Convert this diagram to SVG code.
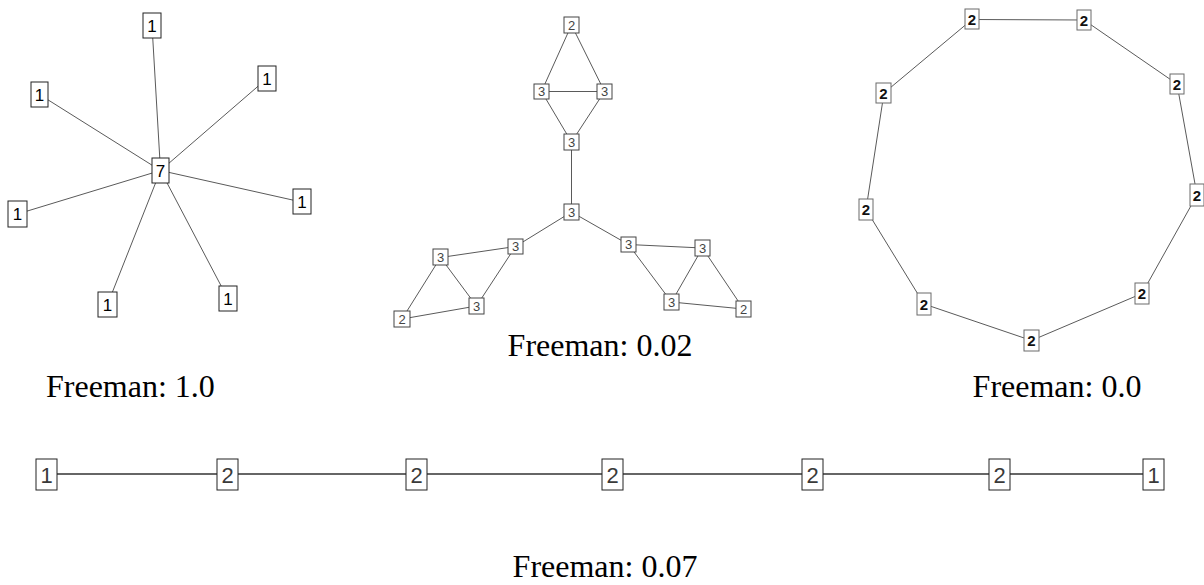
<svg xmlns="http://www.w3.org/2000/svg" width="1204" height="585" viewBox="0 0 1204 585">
  <style>
    .bg { fill: #ffffff; }
    .edge { stroke: #5a5a5a; stroke-width: 1; fill: none; }
    .edge-path { stroke: #333333; stroke-width: 1.5; fill: none; }
    .box { fill: #ffffff; stroke: #222222; stroke-width: 1; }
    .box-s { fill: #ffffff; stroke: #444444; stroke-width: 1; }
    .box-r { fill: #ffffff; stroke: #6a6a6a; stroke-width: 1; }
    .lbl { font-family: "Liberation Sans", Arial, sans-serif; text-anchor: middle; fill: #000000; }
    .star { font-size: 17px; }
    .tri { font-size: 13px; fill: #444444; }
    .ring { font-size: 15px; font-weight: bold; fill: #111111; }
    .line { font-size: 22px; fill: #3a3a3a; }
    .caption { font-family: "Liberation Serif", "Times New Roman", serif; font-size: 32px; fill: #000000; }
  </style>
  <rect class="bg" x="0" y="0" width="1204" height="585"/>

  <!-- connectors -->
  <g id="edges">
    <!-- star -->
    <g id="edges-star" class="edge">
      <line x1="160.5" y1="170.5" x2="152" y2="25.5"/>
      <line x1="160.5" y1="170.5" x2="267" y2="78.5"/>
      <line x1="160.5" y1="170.5" x2="39.5" y2="94.5"/>
      <line x1="160.5" y1="170.5" x2="301.5" y2="202"/>
      <line x1="160.5" y1="170.5" x2="17.5" y2="214"/>
      <line x1="160.5" y1="170.5" x2="107.5" y2="304.5"/>
      <line x1="160.5" y1="170.5" x2="228" y2="299"/>
    </g>
    <!-- three triangles -->
    <g id="edges-tri" class="edge">
      <line x1="571.5" y1="25" x2="541.5" y2="91.5"/>
      <line x1="571.5" y1="25" x2="604.5" y2="91.5"/>
      <line x1="541.5" y1="91.5" x2="604.5" y2="91.5"/>
      <line x1="541.5" y1="91.5" x2="571.5" y2="142"/>
      <line x1="604.5" y1="91.5" x2="571.5" y2="142"/>
      <line x1="571.5" y1="142" x2="571.5" y2="212"/>
      <line x1="571.5" y1="212" x2="515.5" y2="246.5"/>
      <line x1="571.5" y1="212" x2="628.5" y2="244.5"/>
      <line x1="515.5" y1="246.5" x2="440.5" y2="257.5"/>
      <line x1="515.5" y1="246.5" x2="476.5" y2="306"/>
      <line x1="440.5" y1="257.5" x2="476.5" y2="306"/>
      <line x1="440.5" y1="257.5" x2="402" y2="319"/>
      <line x1="476.5" y1="306" x2="402" y2="319"/>
      <line x1="628.5" y1="244.5" x2="702.5" y2="248"/>
      <line x1="628.5" y1="244.5" x2="671.5" y2="302"/>
      <line x1="702.5" y1="248" x2="671.5" y2="302"/>
      <line x1="702.5" y1="248" x2="743.5" y2="309"/>
      <line x1="671.5" y1="302" x2="743.5" y2="309"/>
    </g>
    <!-- ring -->
    <g id="edges-ring" class="edge">
      <polygon points="972,19.5 1084,20 1177,84 1197,195 1142,293.5 1031.5,340.5 924,304 866,209.5 884,93"/>
    </g>
    <!-- path -->
    <g id="edges-path" class="edge-path">
      <line x1="46.5" y1="474" x2="1153.5" y2="474"/>
    </g>
  </g>

  <!-- star nodes -->
  <g id="star-c"><rect class="box" x="152" y="158" width="17" height="25"/><text class="lbl star" x="160.5" y="176.5">7</text></g>
  <g id="star-1"><rect class="box" x="143" y="13" width="18" height="25"/><text class="lbl star" x="152" y="31.5">1</text></g>
  <g id="star-2"><rect class="box" x="258" y="66" width="18" height="25"/><text class="lbl star" x="267" y="84.5">1</text></g>
  <g id="star-3"><rect class="box" x="31" y="82" width="17" height="25"/><text class="lbl star" x="39.5" y="100.5">1</text></g>
  <g id="star-4"><rect class="box" x="293" y="189" width="18" height="25"/><text class="lbl star" x="302" y="207.5">1</text></g>
  <g id="star-5"><rect class="box" x="8" y="201" width="19" height="26"/><text class="lbl star" x="17.5" y="220">1</text></g>
  <g id="star-6"><rect class="box" x="98" y="292" width="19" height="25"/><text class="lbl star" x="107.5" y="310.5">1</text></g>
  <g id="star-7"><rect class="box" x="219" y="286" width="18" height="25"/><text class="lbl star" x="228" y="304.5">1</text></g>

  <!-- triangle nodes -->
  <g id="tri-top"><rect class="box-s" x="564" y="17" width="15" height="16"/><text class="lbl tri" x="571.5" y="29.5">2</text></g>
  <g id="tri-a1"><rect class="box-s" x="534" y="84" width="15" height="15"/><text class="lbl tri" x="541.5" y="96">3</text></g>
  <g id="tri-a2"><rect class="box-s" x="597" y="84" width="15" height="15"/><text class="lbl tri" x="604.5" y="96">3</text></g>
  <g id="tri-a3"><rect class="box-s" x="564" y="134" width="15" height="16"/><text class="lbl tri" x="571.5" y="146.5">3</text></g>
  <g id="tri-hub"><rect class="box-s" x="564" y="204" width="15" height="16"/><text class="lbl tri" x="571.5" y="216.5">3</text></g>
  <g id="tri-b1"><rect class="box-s" x="508" y="239" width="15" height="15"/><text class="lbl tri" x="515.5" y="251">3</text></g>
  <g id="tri-b2"><rect class="box-s" x="433" y="249" width="15" height="16"/><text class="lbl tri" x="440.5" y="261.5">3</text></g>
  <g id="tri-b3"><rect class="box-s" x="469" y="298" width="15" height="16"/><text class="lbl tri" x="476.5" y="310.5">3</text></g>
  <g id="tri-b4"><rect class="box-s" x="394" y="311" width="16" height="16"/><text class="lbl tri" x="402" y="323.5">2</text></g>
  <g id="tri-c1"><rect class="box-s" x="621" y="237" width="15" height="15"/><text class="lbl tri" x="628.5" y="249">3</text></g>
  <g id="tri-c2"><rect class="box-s" x="695" y="240" width="15" height="16"/><text class="lbl tri" x="702.5" y="252.5">3</text></g>
  <g id="tri-c3"><rect class="box-s" x="664" y="294" width="15" height="16"/><text class="lbl tri" x="671.5" y="306.5">3</text></g>
  <g id="tri-c4"><rect class="box-s" x="736" y="301" width="15" height="16"/><text class="lbl tri" x="743.5" y="313.5">2</text></g>

  <!-- ring nodes -->
  <g id="ring-1"><rect class="box-r" x="965" y="9" width="14" height="20"/><text class="lbl ring" x="972" y="24.5">2</text></g>
  <g id="ring-2"><rect class="box-r" x="1077" y="10" width="14" height="20"/><text class="lbl ring" x="1084" y="25.5">2</text></g>
  <g id="ring-3"><rect class="box-r" x="1170" y="74" width="14" height="20"/><text class="lbl ring" x="1177" y="89.5">2</text></g>
  <g id="ring-4"><rect class="box-r" x="1190" y="184" width="14" height="22"/><text class="lbl ring" x="1197" y="200.5">2</text></g>
  <g id="ring-5"><rect class="box-r" x="1135" y="283" width="14" height="21"/><text class="lbl ring" x="1142" y="299">2</text></g>
  <g id="ring-6"><rect class="box-r" x="1024" y="330" width="15" height="21"/><text class="lbl ring" x="1031.5" y="346">2</text></g>
  <g id="ring-7"><rect class="box-r" x="917" y="293" width="14" height="22"/><text class="lbl ring" x="924" y="309.5">2</text></g>
  <g id="ring-8"><rect class="box-r" x="859" y="199" width="14" height="21"/><text class="lbl ring" x="866" y="215">2</text></g>
  <g id="ring-9"><rect class="box-r" x="876" y="83" width="15" height="20"/><text class="lbl ring" x="883.5" y="98.5">2</text></g>

  <!-- path nodes -->
  <g id="path-1"><rect class="box" x="36" y="459" width="21" height="31"/><text class="lbl line" x="46.5" y="482.5">1</text></g>
  <g id="path-2"><rect class="box" x="217" y="459" width="21" height="31"/><text class="lbl line" x="227.5" y="482.5">2</text></g>
  <g id="path-3"><rect class="box" x="406" y="459" width="21" height="31"/><text class="lbl line" x="416.5" y="482.5">2</text></g>
  <g id="path-4"><rect class="box" x="602" y="459" width="21" height="31"/><text class="lbl line" x="612.5" y="482.5">2</text></g>
  <g id="path-5"><rect class="box" x="802" y="459" width="21" height="31"/><text class="lbl line" x="812.5" y="482.5">2</text></g>
  <g id="path-6"><rect class="box" x="989" y="459" width="21" height="31"/><text class="lbl line" x="999.5" y="482.5">2</text></g>
  <g id="path-7"><rect class="box" x="1143" y="459" width="21" height="31"/><text class="lbl line" x="1153.5" y="482.5">1</text></g>

  <!-- captions -->
  <text class="caption" x="46" y="397">Freeman: 1.0</text>
  <text class="caption" x="600" y="356" text-anchor="middle">Freeman: 0.02</text>
  <text class="caption" x="1057" y="397" text-anchor="middle">Freeman: 0.0</text>
  <text class="caption" x="605" y="577" text-anchor="middle">Freeman: 0.07</text>
</svg>
